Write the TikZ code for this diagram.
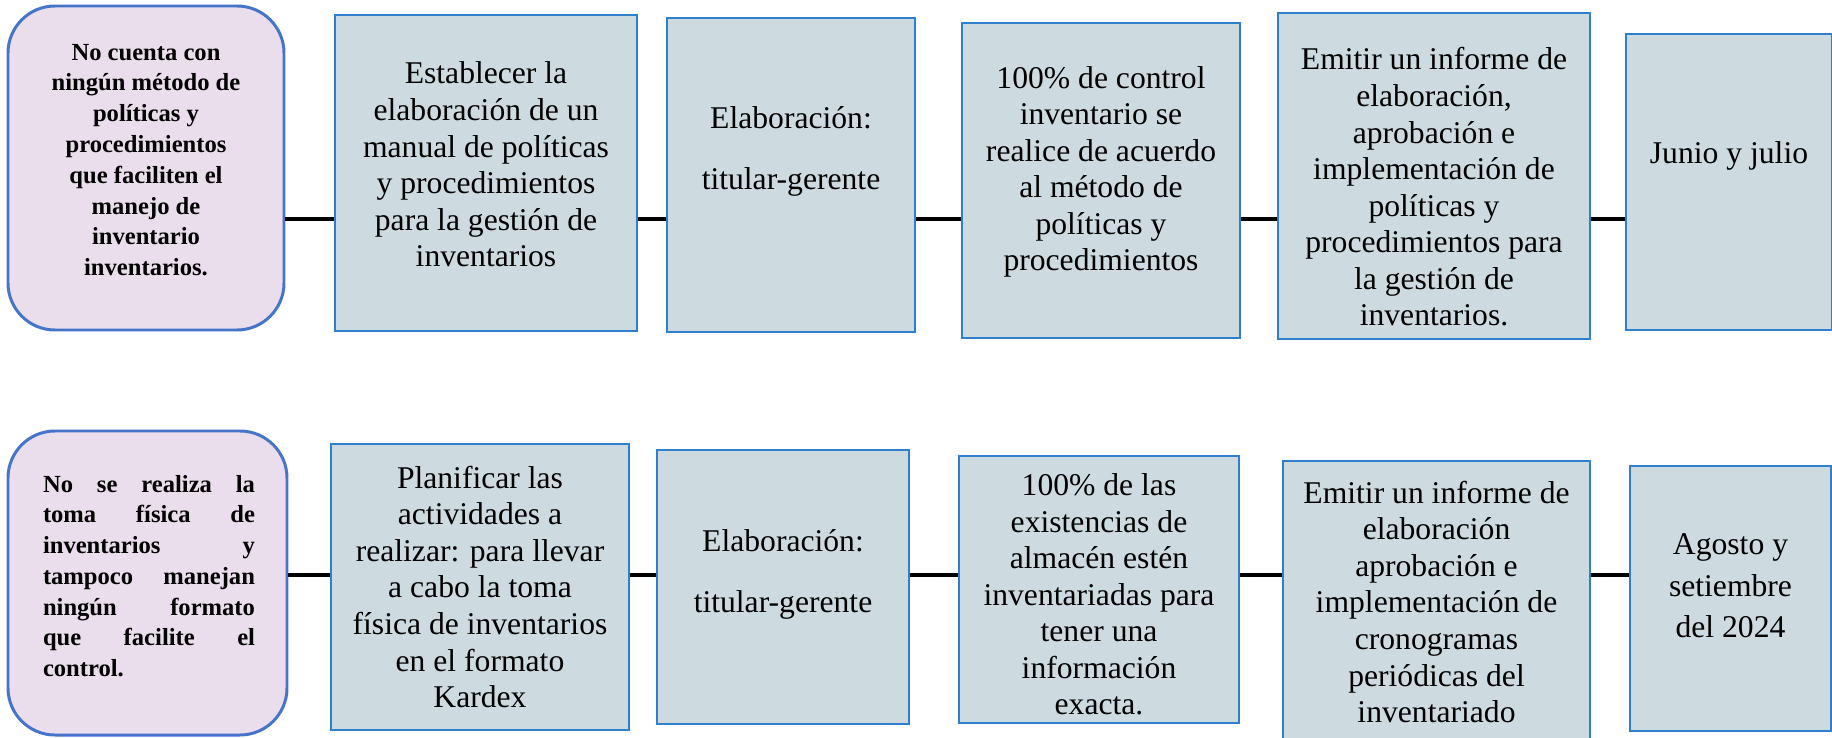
\documentclass[tikz,border=0pt]{standalone}
\usepackage{fontspec}
\setmainfont{Liberation Serif}
\newcommand{\jl}[1]{\makebox[4.24cm][s]{#1}}
\begin{document}
\begin{tikzpicture}[
  box/.style={draw=boxline, fill=boxfill, line width=1.1pt, inner sep=0pt},
  prob/.style={draw=probline, fill=probfill, line width=1.7pt, rounded corners=0.94cm, inner sep=0pt},
  txt/.style={align=center, inner sep=0pt, font=\fontsize{18}{20.8}\selectfont},
  btxt/.style={align=center, inner sep=0pt, font=\fontsize{14}{17.5}\selectfont\bfseries},
  link/.style={line width=2.3pt}]
  \definecolor{boxfill}{HTML}{CDDBE0}
  \definecolor{boxline}{HTML}{2F7FCF}
  \definecolor{probfill}{HTML}{EBDEEC}
  \definecolor{probline}{HTML}{4674CA}
  \clip (0,0) rectangle (36.64,14.74);
  % first row: politicas y procedimientos
  \node[prob, minimum width=5.52cm, minimum height=6.48cm] (pA) at (2.92,11.38) {};
  \node[btxt] (pAt) at ([yshift=0.16cm]pA.center) {No cuenta con\\ ningún método de\\ políticas y\\ procedimientos\\ que faciliten el\\ manejo de\\ inventario\\ inventarios.};
  \node[box, minimum width=6.04cm, minimum height=6.32cm] (a1) at (9.72,11.28) {};
  \node[txt] (a1t) at ([yshift=0.17cm]a1.center) {Establecer la\\ elaboración de un\\ manual de políticas\\ y procedimientos\\ para la gestión de\\ inventarios};
  \node[box, minimum width=4.96cm, minimum height=6.28cm] (a2) at (15.82,11.24) {};
  \node[txt] (a2t) at ([yshift=0.48cm]a2.center) {Elaboración:\\[14pt] titular-gerente};
  \node[box, minimum width=5.56cm, minimum height=6.30cm] (a3) at (22.02,11.13) {};
  \node[txt] (a3t) at ([yshift=0.17cm]a3.center) {100\% de control\\ inventario se\\ realice de acuerdo\\ al método de\\ políticas y\\ procedimientos};
  \node[box, minimum width=6.24cm, minimum height=6.52cm] (a4) at (28.68,11.22) {};
  \node[txt] (a4t) at ([yshift=-0.22cm]a4.center) {Emitir un informe de\\ elaboración,\\ aprobación e\\ implementación de\\ políticas y\\ procedimientos para\\ la gestión de\\ inventarios.};
  \node[box, minimum width=4.12cm, minimum height=5.92cm] (a5) at (34.58,11.10) {};
  \node[txt] (a5t) at ([yshift=0.53cm]a5.center) {Junio y julio};
  % second row: toma fisica de inventarios
  \node[prob, minimum width=5.58cm, minimum height=6.08cm] (pB) at (2.95,3.08) {};
  \node[btxt, align=left] (pBt) at ([xshift=0.03cm, yshift=0.14cm]pB.center) {\jl{No se realiza la}\\ \jl{toma física de}\\ \jl{inventarios y}\\ \jl{tampoco manejan}\\ \jl{ningún formato}\\ \jl{que facilite el}\\ control.};
  \node[box, minimum width=5.96cm, minimum height=5.72cm] (b1) at (9.60,3.00) {};
  \node[txt] (b1t) at (b1.center) {Planificar las\\ actividades a\\ realizar: para llevar\\ a cabo la toma\\ física de inventarios\\ en el formato\\ Kardex};
  \node[box, minimum width=5.04cm, minimum height=5.48cm] (b2) at (15.66,3.00) {};
  \node[txt] (b2t) at ([yshift=0.25cm]b2.center) {Elaboración:\\[14pt] titular-gerente};
  \node[box, minimum width=5.60cm, minimum height=5.34cm] (b3) at (21.98,2.95) {};
  \node[txt] (b3t) at ([yshift=-0.10cm]b3.center) {100\% de las\\ existencias de\\ almacén estén\\ inventariadas para\\ tener una\\ información\\ exacta.};
  \node[box, minimum width=6.14cm, minimum height=5.98cm] (b4) at (28.73,2.53) {};
  \node[txt] (b4t) at ([yshift=0.17cm]b4.center) {Emitir un informe de\\ elaboración\\ aprobación e\\ implementación de\\ cronogramas\\ periódicas del\\ inventariado};
  \node[box, minimum width=4.02cm, minimum height=5.30cm] (b5) at (34.61,2.77) {};
  \node[txt, font=\fontsize{18}{23.5}\selectfont] (b5t) at ([yshift=0.25cm]b5.center) {Agosto y\\ setiembre\\ del 2024};
  % connectors
  \coordinate (lvA) at (0,10.36);
  \coordinate (lvB) at (0,3.24);
  \foreach \u/\v in {pA/a1,a1/a2,a2/a3,a3/a4,a4/a5}
    \draw[link] (\u.east |- lvA) -- (\v.west |- lvA);
  \foreach \u/\v in {pB/b1,b1/b2,b2/b3,b3/b4,b4/b5}
    \draw[link] (\u.east |- lvB) -- (\v.west |- lvB);
\end{tikzpicture}
\end{document}
